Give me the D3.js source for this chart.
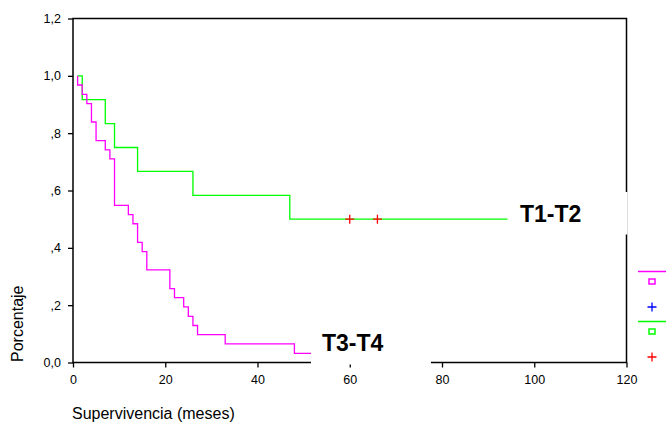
<!DOCTYPE html>
<html>
<head>
<meta charset="utf-8">
<script src="https://cdn.jsdelivr.net/npm/d3@7"></script>
<style>
  body{margin:0;background:#fff;}
  svg{display:block;font-family:"Liberation Sans",Arial,sans-serif;}
</style>
</head>
<body>
<svg id="display" width="666" height="423"></svg>
<script>
// survival data (months, cumulative survival)
const t12_time=[1,2,7,9,14,26,47,96];
const t12_surv=[1.0,0.917,0.833,0.75,0.667,0.583,0.5,0.5];
const t12_censor=[60,66];

const t34_time=[1,1,2,3,4,5,7,8,9,12,13,14,15,16,21,22,24,25,26,27,33,48,56];
const t34_surv=[1.0,0.968,0.935,0.903,0.839,0.774,0.742,0.710,0.548,0.516,0.484,0.419,0.387,0.323,0.258,0.226,0.194,0.161,0.129,0.097,0.065,0.032,0.032];

const x_ticks=[0,20,40,60,80,100,120];
const y_ticks=[0,0.2,0.4,0.6,0.8,1.0,1.2];
const y_tick_labels=["0,0",",2",",4",",6",",8","1,0","1,2"];

const display=d3.select("#display");

const x=d3.scaleLinear().domain([0,120]).range([73,626.5]);
const y=d3.scaleLinear().domain([0,1.2]).range([362.5,18.5]);

// ticks
const x_axis=d3.axisBottom(x).tickValues(x_ticks).tickSize(5).tickFormat(d=>d);
const y_axis=d3.axisLeft(y).tickValues(y_ticks).tickSize(5).tickFormat((d,i)=>y_tick_labels[i]);

const gx=display.append("g").attr("transform","translate(0,"+y(0)+")").call(x_axis);
const gy=display.append("g").attr("transform","translate("+x(0)+",0)").call(y_axis);
for (const g of [gx,gy]){
    g.select(".domain").remove();
    g.selectAll(".tick line").attr("stroke","#000").attr("stroke-width",1.3);
    g.selectAll(".tick text").attr("fill","#000").style("font-size","12.5px");
}
gx.selectAll(".tick text").attr("dy","0.9em").attr("y",10);
gy.selectAll(".tick text").attr("x",-12);

// frame
display.append("rect")
    .attr("x",x(0))
    .attr("y",y(1.2))
    .attr("width",x(120)-x(0))
    .attr("height",y(0)-y(1.2))
    .attr("fill","none")
    .attr("stroke","#000")
    .attr("stroke-width",1.5);

// curves
const line=d3.line()
    .x(d=>x(d[0]))
    .y(d=>y(d[1]))
    .curve(d3.curveStepAfter);

display.append("path")
    .datum(t12_time.map((t,i)=>[t,t12_surv[i]]))
    .attr("d",line)
    .attr("fill","none")
    .attr("stroke","#00ff00")
    .attr("stroke-width",1.3);

display.append("path")
    .datum(t34_time.map((t,i)=>[t,t34_surv[i]]))
    .attr("d",line)
    .attr("fill","none")
    .attr("stroke","#ff00ff")
    .attr("stroke-width",1.3);

// censored marks
const plus=(cx,cy,color)=>{
    display.append("path")
        .attr("d","M"+(cx-4.5)+","+cy+"H"+(cx+4.5)+"M"+cx+","+(cy-4.5)+"V"+(cy+4.5))
        .attr("stroke",color)
        .attr("stroke-width",1.3);
};
const step_value=(times,survs,t)=>{
    let v=survs[0];
    for (let i=0;i<times.length;i++){ if (times[i]<=t) v=survs[i]; }
    return v;
};
for (const t of t12_censor){
    plus(x(t),y(step_value(t12_time,t12_surv,t)),"#ff0000");
}

// group labels on white boxes
const group_labels=[
    {text:"T1-T2",bx:507.5,by:192,tx:520,ty:221.5},
    {text:"T3-T4",bx:311,by:322,tx:322,ty:350.5}
];
for (const lab of group_labels){
    display.append("rect")
        .attr("x",lab.bx)
        .attr("y",lab.by)
        .attr("width",120)
        .attr("height",42.5)
        .attr("fill","#fff");
    display.append("text")
        .attr("x",lab.tx)
        .attr("y",lab.ty)
        .attr("fill","#000")
        .style("font-size","23px")
        .style("font-weight","bold")
        .text(lab.text);
}

// legend
const legend=[
    {type:"line",color:"#ff00ff",y:271.5},
    {type:"square",color:"#ff00ff",y:282},
    {type:"plus",color:"#0000ff",y:307},
    {type:"line",color:"#00ff00",y:321.5},
    {type:"square",color:"#00ff00",y:332},
    {type:"plus",color:"#ff0000",y:357}
];
for (const item of legend){
    if (item.type==="line"){
        display.append("line")
            .attr("x1",638).attr("x2",666)
            .attr("y1",item.y).attr("y2",item.y)
            .attr("stroke",item.color)
            .attr("stroke-width",1.5);
    } else if (item.type==="square"){
        display.append("rect")
            .attr("x",649).attr("y",item.y-3)
            .attr("width",6).attr("height",5)
            .attr("fill","none")
            .attr("stroke",item.color)
            .attr("stroke-width",1.5);
    } else {
        plus(652,item.y,item.color);
    }
}

// axis titles
display.append("text")
    .attr("x",72)
    .attr("y",419)
    .attr("fill","#000")
    .style("font-size","16px")
    .text("Supervivencia (meses)");

display.append("text")
    .attr("transform","translate(23,362) rotate(-90)")
    .attr("fill","#000")
    .style("font-size","16px")
    .text("Porcentaje");
</script>
</body>
</html>
